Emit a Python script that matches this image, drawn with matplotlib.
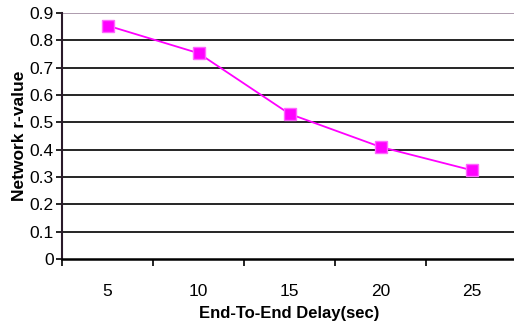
import numpy as np
import matplotlib.pyplot as plt

delay = ["5", "10", "15", "20", "25"]
r_value = [0.854, 0.753, 0.531, 0.410, 0.325]
y_ticks = [0, 0.1, 0.2, 0.3, 0.4, 0.5, 0.6, 0.7, 0.8, 0.9]

plt.rcParams["font.family"] = ["Liberation Sans", "DejaVu Sans"]

fig = plt.figure(figsize=(5.14, 3.24), dpi=100)
W, H = 514, 324
ax = fig.add_axes([62 / W, (H - 259) / H, 455 / W, 246 / H])

x = np.arange(len(delay))
ax.plot(x, r_value, color="#ff00ff", lw=1.3, marker="s", markersize=8,
        markerfacecolor="#ff00ff", markeredgecolor="#ff66ff", markeredgewidth=1)

ax.set_xlim(-0.5, len(delay) - 0.5)
ax.set_ylim(0, 0.9)
ax.set_yticks(y_ticks)
ax.set_yticklabels(["0"] + [f"{v:.1f}" for v in y_ticks[1:]])
ax.set_xticks(x)
ax.set_xticklabels(delay)
ax.set_xticks(np.arange(-0.5, len(delay)), minor=True)
ax.tick_params(axis="x", which="major", length=0, pad=18, labelsize=12.5)
ax.tick_params(axis="x", which="minor", length=5, width=1.2, direction="out", color="black")
ax.tick_params(axis="y", length=4, width=1.2, direction="out", labelsize=12.5, pad=2)

for v in y_ticks[1:]:
    ax.axhline(v, color="black" if v < 0.85 else "#a08aa0", lw=1.2, zorder=0)

for s in ["top", "right"]:
    ax.spines[s].set_visible(False)
ax.spines["left"].set_color("#2a1a2a")
ax.spines["left"].set_linewidth(1.5)
ax.spines["bottom"].set_color("black")
ax.spines["bottom"].set_linewidth(1.8)

ax.set_xlabel("End-To-End Delay(sec)", fontsize=12, fontweight="bold", labelpad=5)
ax.set_ylabel("Network r-value", fontsize=12.5, fontweight="bold", labelpad=2)

fig.savefig("out.png", dpi=100)
